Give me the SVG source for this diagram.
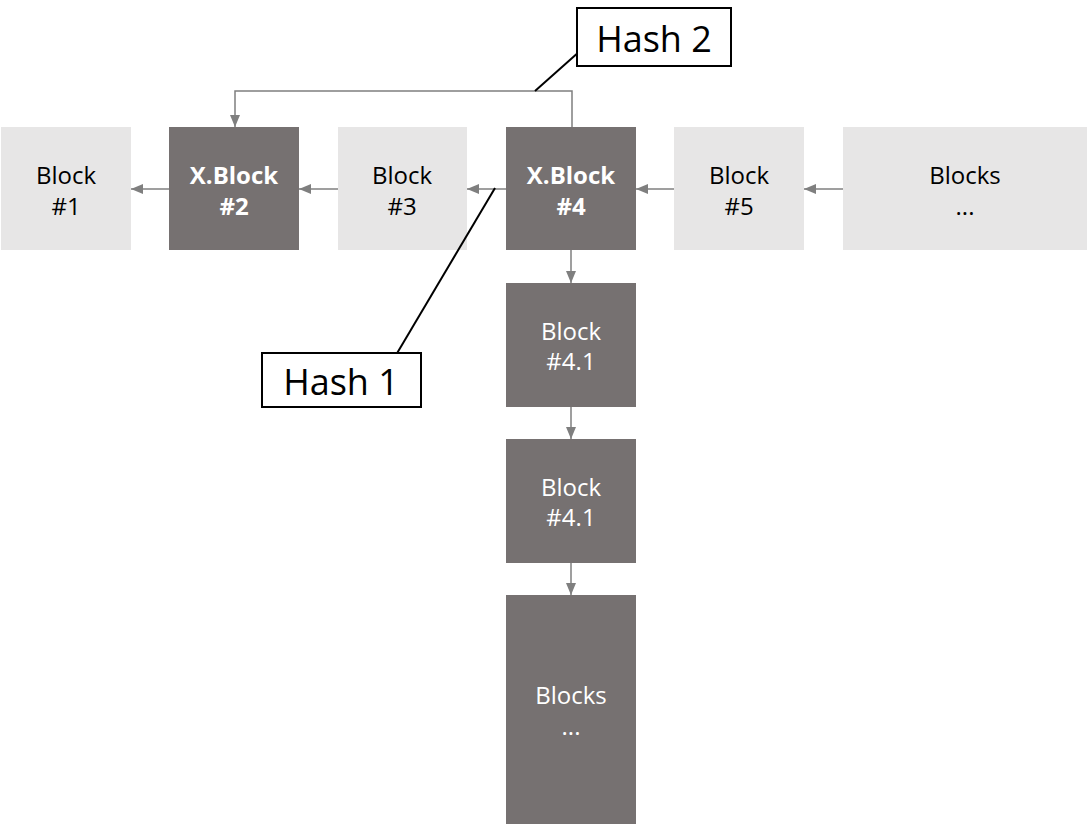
<svg xmlns="http://www.w3.org/2000/svg" width="1087" height="824" viewBox="0 0 1087 824">
<style>
.light{fill:#E7E6E6}
.dark{fill:#767171}
text{font-family:"Open Sans","Noto Sans",sans-serif;font-size:24px;text-anchor:middle}
.tl{fill:#000}
.td{fill:#fff}
.b{font-weight:bold}
.conn{stroke:#7F7F7F;stroke-width:1.5;fill:none}
.call{stroke:#000;stroke-width:2;fill:none}
.lab{fill:#fff;stroke:#000;stroke-width:2}
.big{font-size:36px}
</style>
<defs>
<marker id="ah" viewBox="0 0 12 10" refX="12" refY="5" markerWidth="12" markerHeight="10" markerUnits="userSpaceOnUse" orient="auto">
<path d="M0,0 L12,5 L0,10 Z" fill="#7F7F7F"/>
</marker>
</defs>
<g id="connectors">
<line class="conn" x1="169" y1="189" x2="131" y2="189" marker-end="url(#ah)"/>
<line class="conn" x1="338" y1="189" x2="299" y2="189" marker-end="url(#ah)"/>
<line class="conn" x1="506" y1="189" x2="467" y2="189" marker-end="url(#ah)"/>
<line class="conn" x1="674" y1="189" x2="636" y2="189" marker-end="url(#ah)"/>
<line class="conn" x1="843" y1="189" x2="804" y2="189" marker-end="url(#ah)"/>
<line class="conn" x1="571" y1="250" x2="571" y2="283" marker-end="url(#ah)"/>
<line class="conn" x1="571" y1="407" x2="571" y2="439" marker-end="url(#ah)"/>
<line class="conn" x1="571" y1="563" x2="571" y2="595" marker-end="url(#ah)"/>
<polyline class="conn" points="572,127 572,91 235,91 235,127" marker-end="url(#ah)"/>
</g>
<g id="block1"><rect class="light" x="1" y="127" width="130" height="123"/><text class="tl" x="66" y="184">Block</text><text class="tl" x="66" y="215">#1</text></g>
<g id="xblock2"><rect class="dark" x="169" y="127" width="130" height="123"/><text class="td b" x="234" y="184">X.Block</text><text class="td b" x="234" y="215">#2</text></g>
<g id="block3"><rect class="light" x="338" y="127" width="129" height="123"/><text class="tl" x="402" y="184">Block</text><text class="tl" x="402" y="215">#3</text></g>
<g id="xblock4"><rect class="dark" x="506" y="127" width="130" height="123"/><text class="td b" x="571" y="184">X.Block</text><text class="td b" x="571" y="215">#4</text></g>
<g id="block5"><rect class="light" x="674" y="127" width="130" height="123"/><text class="tl" x="739" y="184">Block</text><text class="tl" x="739" y="215">#5</text></g>
<g id="blocks-row"><rect class="light" x="843" y="127" width="244" height="123"/><text class="tl" x="965" y="184">Blocks</text><text class="tl" x="965" y="215">...</text></g>
<g id="block41a"><rect class="dark" x="506" y="283" width="130" height="124"/><text class="td" x="571" y="340">Block</text><text class="td" x="571" y="370">#4.1</text></g>
<g id="block41b"><rect class="dark" x="506" y="439" width="130" height="124"/><text class="td" x="571" y="496">Block</text><text class="td" x="571" y="526">#4.1</text></g>
<g id="blocks-col"><rect class="dark" x="506" y="595" width="130" height="229"/><text class="td" x="571" y="704">Blocks</text><text class="td" x="571" y="735">...</text></g>
<g id="hash2"><line class="call" x1="580" y1="51" x2="535" y2="91"/><rect class="lab" x="577" y="8" width="154" height="58"/><text class="tl big" x="654" y="52">Hash 2</text></g>
<g id="hash1"><line class="call" x1="495" y1="188" x2="396" y2="355"/><rect class="lab" x="262" y="353" width="159" height="54"/><text class="tl big" x="341" y="395">Hash 1</text></g>
</svg>
